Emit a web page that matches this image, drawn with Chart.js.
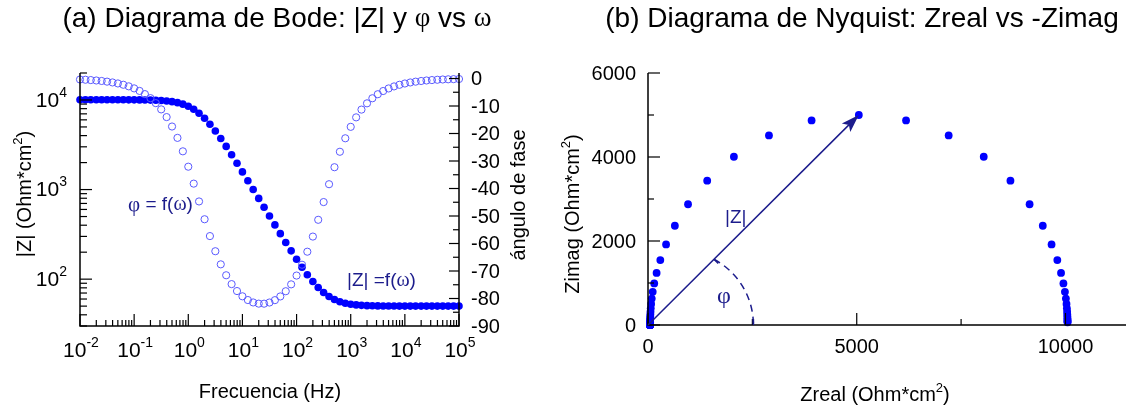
<!DOCTYPE html>
<html>
<head>
<meta charset="utf-8">
<script src="https://cdn.jsdelivr.net/npm/chart.js@4.4.1/dist/chart.umd.min.js"></script>
<style>
  body { margin: 0; background: #fff; width: 1130px; height: 407px; overflow: hidden; position: relative; }
  canvas { position: absolute; top: 0; }
  #bode { left: 0; }
  #nyq { left: 560px; }
</style>
</head>
<body>
<canvas id="bode" width="560" height="407"></canvas>
<canvas id="nyq" width="570" height="407"></canvas>
<script>
// frequency points (Hz), 10 per decade
const freq = [
  0.01, 0.0126, 0.0158, 0.02, 0.0251, 0.0316, 0.0398, 0.0501, 0.0631, 0.0794,
  0.1, 0.126, 0.158, 0.2, 0.251, 0.316, 0.398, 0.501, 0.631, 0.794,
  1, 1.26, 1.58, 2, 2.51, 3.16, 3.98, 5.01, 6.31, 7.94,
  10, 12.6, 15.8, 20, 25.1, 31.6, 39.8, 50.1, 63.1, 79.4,
  100, 126, 158, 200, 251, 316, 398, 501, 631, 794,
  1000, 1260, 1580, 2000, 2510, 3160, 3980, 5010, 6310, 7940,
  10000, 12600, 15800, 20000, 25100, 31600, 39800, 50100, 63100, 79400,
  100000
];

// |Z| (Ohm*cm2)
const zMod = [
  10050, 10050, 10050, 10049, 10049, 10048, 10047, 10045, 10042, 10037,
  10030, 10018, 10000, 9971, 9926, 9856, 9747, 9582, 9337, 8985,
  8500, 7870, 7107, 6251, 5363, 4503, 3718, 3031, 2449, 1967,
  1574, 1256, 1001, 797, 635, 506, 403, 322, 257, 207,
  167, 136, 112, 94.2, 80.8, 71.0, 64.0, 59.3, 56.0, 53.9,
  52.5, 51.6, 51.0, 50.6, 50.4, 50.3, 50.2, 50.1, 50.1, 50.0,
  50.0, 50.0, 50.0, 50.0, 50.0, 50.0, 50.0, 50.0, 50.0, 50.0,
  50.0
];

// phase angle (degrees)
const phase = [
  -0.36, -0.45, -0.57, -0.72, -0.90, -1.14, -1.43, -1.80, -2.27, -2.85,
  -3.59, -4.52, -5.68, -7.14, -8.96, -11.23, -14.03, -17.46, -21.59, -26.48,
  -32.07, -38.23, -44.71, -51.18, -57.30, -62.81, -67.58, -71.55, -74.77, -77.29,
  -79.20, -80.56, -81.44, -81.87, -81.88, -81.46, -80.60, -79.25, -77.36, -74.86,
  -71.66, -67.72, -62.98, -57.48, -51.38, -44.93, -38.44, -32.26, -26.64, -21.74,
  -17.58, -14.13, -11.31, -9.03, -7.19, -5.72, -4.55, -3.62, -2.88, -2.29,
  -1.82, -1.44, -1.15, -0.91, -0.72, -0.57, -0.46, -0.36, -0.29, -0.23,
  -0.18
];

// Nyquist: Zreal and -Zimag (Ohm*cm2)
const zReal = [
  10049.6, 10049.4, 10049.0, 10048.4, 10047.5, 10046.0, 10043.7, 10040.0, 10034.2, 10024.9,
  10010.3, 9987.3, 9951.0, 9894.0, 9805.0, 9667.1, 9456.5, 9140.9, 8681.9, 8042.4,
  7202.5, 6181.4, 5050, 3918.6, 2897.5, 2057.6, 1418.1, 959.1, 643.5, 432.9,
  295.0, 206.0, 149.0, 112.7, 89.7, 75.1, 65.8, 60.0, 56.3, 54.0,
  52.5, 51.6, 51.0, 50.6, 50.4, 50.3, 50.2, 50.1, 50.1, 50.0,
  50.0, 50.0, 50.0, 50.0, 50.0, 50.0, 50.0, 50.0, 50.0, 50.0,
  50.0, 50.0, 50.0, 50.0, 50.0, 50.0, 50.0, 50.0, 50.0, 50.0,
  50.0
];
const zImag = [
  63.1, 79.4, 100.0, 125.9, 158.4, 199.5, 251.0, 315.9, 397.5, 499.9,
  628.5, 789.3, 990.1, 1239.3, 1546.1, 1918.9, 2362.8, 2874.8, 3436.4, 4005.7,
  4512.9, 4870.4, 5000, 4870.3, 4513.0, 4005.7, 3436.5, 2874.8, 2362.8, 1918.9,
  1546.1, 1239.3, 990.1, 789.3, 628.5, 499.9, 397.5, 315.9, 251.0, 199.5,
  158.5, 125.9, 100.0, 79.4, 63.1, 50.1, 39.8, 31.6, 25.1, 20.0,
  15.8, 12.6, 10.0, 7.9, 6.3, 5.0, 4.0, 3.2, 2.5, 2.0,
  1.6, 1.3, 1.0, 0.8, 0.6, 0.5, 0.4, 0.3, 0.25, 0.2,
  0.16
];
const apexIdx = 22;

// tick labels
const freqTickExp = [-2, -1, 0, 1, 2, 3, 4, 5];
const zTickExp = [2, 3, 4];
const phaseTicks = [0, -10, -20, -30, -40, -50, -60, -70, -80, -90];
const nyqXTicks = [0, 5000, 10000];
const nyqYTicks = [0, 2000, 4000, 6000];

const SANS = '"Liberation Sans", Arial, sans-serif';
const SERIF = '"Liberation Serif", "Times New Roman", serif';
const NAVY = '#1c1c8c';

function setFont(ctx, size, fam) { ctx.font = size + 'px ' + (fam || SANS); }

// parts: [text, size, family, dy]
function drawRich(ctx, parts, x, y, align) {
  let w = 0;
  parts.forEach(p => { setFont(ctx, p[1], p[2]); w += ctx.measureText(p[0]).width; });
  let cx = align === 'center' ? x - w / 2 : (align === 'right' ? x - w : x);
  ctx.textAlign = 'left';
  ctx.textBaseline = 'middle';
  parts.forEach(p => {
    setFont(ctx, p[1], p[2]);
    ctx.fillText(p[0], cx, y + (p[3] || 0));
    cx += ctx.measureText(p[0]).width;
  });
}

function drawRotated(ctx, parts, x, y) {
  ctx.save();
  ctx.translate(x, y);
  ctx.rotate(-Math.PI / 2);
  drawRich(ctx, parts, 0, 0, 'center');
  ctx.restore();
}

function pow10(e, size) {
  return [['10', size], [String(e), Math.round(size * 0.65), SANS, -8]];
}

function tick(ctx, x1, y1, x2, y2) {
  ctx.beginPath(); ctx.moveTo(x1, y1); ctx.lineTo(x2, y2); ctx.stroke();
}

const bodeAxes = {
  id: 'bodeAxes',
  afterDraw(chart) {
    const { ctx, chartArea: a } = chart;
    const sx = chart.scales.x, sy = chart.scales.y, sy2 = chart.scales.y2;
    ctx.save();
    ctx.strokeStyle = '#000';
    ctx.fillStyle = '#000';
    ctx.lineWidth = 1.5;
    ctx.beginPath();
    ctx.moveTo(a.left, a.top); ctx.lineTo(a.left, a.bottom);
    ctx.lineTo(a.right, a.bottom); ctx.lineTo(a.right, a.top);
    ctx.stroke();
    ctx.lineWidth = 1.2;

    // frequency axis
    freqTickExp.forEach((e, i) => {
      const px = sx.getPixelForValue(Math.pow(10, e));
      tick(ctx, px, a.bottom, px, a.bottom - 12);
      drawRich(ctx, pow10(e, 21), px + 1, 351, 'center');
      if (i < freqTickExp.length - 1) {
        for (let k = 2; k <= 9; k++) {
          const mx = sx.getPixelForValue(k * Math.pow(10, e));
          tick(ctx, mx, a.bottom, mx, a.bottom - 6);
        }
      }
    });

    // |Z| axis
    for (let e = 1; e <= 4; e++) {
      for (let k = 1; k <= 9; k++) {
        const v = k * Math.pow(10, e);
        if (v < sy.min || v > sy.max) continue;
        const py = sy.getPixelForValue(v);
        tick(ctx, a.left, py, a.left + (k === 1 ? 12 : 7), py);
      }
    }
    zTickExp.forEach(e => {
      drawRich(ctx, pow10(e, 21), 67, sy.getPixelForValue(Math.pow(10, e)) + 1, 'right');
    });

    // phase axis
    for (let v = 0; v >= -90; v -= 5) {
      const py = sy2.getPixelForValue(v);
      tick(ctx, a.right, py, a.right - (v % 10 === 0 ? 10 : 6), py);
    }
    phaseTicks.forEach(v => {
      drawRich(ctx, [[String(v), 20]], 471, sy2.getPixelForValue(v) + 1, 'left');
    });

    // titles
    drawRich(ctx, [['(a) Diagrama de Bode: |Z| y ', 28], ['\u03c6', 27, SERIF], [' vs ', 28], ['\u03c9', 27, SERIF]], 277, 19, 'center');
    drawRich(ctx, [['Frecuencia (Hz)', 20]], 270, 392, 'center');
    drawRotated(ctx, [['|Z| (Ohm*cm', 20], ['2', 13, SANS, -7], [')', 20]], 25, 194);
    drawRotated(ctx, [['\u00e1ngulo de fase', 20]], 519, 195);

    // curve labels
    ctx.fillStyle = NAVY;
    drawRich(ctx, [['\u03c6', 21, SERIF], [' = f(', 19], ['\u03c9', 20, SERIF], [')', 19]], 128, 205, 'left');
    drawRich(ctx, [['|Z| =f(', 19], ['\u03c9', 20, SERIF], [')', 19]], 347, 281, 'left');
    ctx.restore();
  }
};

const nyqAxes = {
  id: 'nyqAxes',
  afterDraw(chart) {
    const { ctx, chartArea: a } = chart;
    const sx = chart.scales.x, sy = chart.scales.y;
    ctx.save();
    ctx.strokeStyle = '#000';
    ctx.fillStyle = '#000';
    ctx.lineWidth = 1.5;
    ctx.beginPath();
    ctx.moveTo(a.left, a.top); ctx.lineTo(a.left, a.bottom); ctx.lineTo(a.right, a.bottom);
    ctx.stroke();
    ctx.lineWidth = 1.2;

    for (let v = 0; v <= 6000; v += 1000) {
      const py = sy.getPixelForValue(v);
      tick(ctx, a.left, py, a.left + (v % 2000 === 0 ? 12 : 6), py);
    }
    nyqYTicks.forEach(v => drawRich(ctx, [[String(v), 20]], 76, sy.getPixelForValue(v) + 1, 'right'));
    for (let v = 0; v <= 10000; v += 2500) {
      const px = sx.getPixelForValue(v);
      tick(ctx, px, a.bottom, px, a.bottom - (v % 5000 === 0 ? 12 : 6));
    }
    nyqXTicks.forEach(v => drawRich(ctx, [[String(v), 20]], sx.getPixelForValue(v), 347, 'center'));

    drawRich(ctx, [['(b) Diagrama de Nyquist: Zreal vs -Zimag', 28]], 302, 19, 'center');
    drawRich(ctx, [['Zreal (Ohm*cm', 20], ['2', 13, SANS, -7], [')', 20]], 315, 395, 'center');
    drawRotated(ctx, [['Zimag (Ohm*cm', 20], ['2', 13, SANS, -7], [')', 20]], 13, 214);

    // |Z| vector to the apex point
    const x0 = sx.getPixelForValue(0), y0 = sy.getPixelForValue(0);
    const x1 = sx.getPixelForValue(zReal[apexIdx]), y1 = sy.getPixelForValue(zImag[apexIdx]);
    const ang = Math.atan2(y1 - y0, x1 - x0);
    const c = Math.cos(ang), s = Math.sin(ang);
    const hl = 18, hw = 6;
    const bx = x1 - hl * c, by = y1 - hl * s;
    ctx.strokeStyle = NAVY;
    ctx.fillStyle = NAVY;
    ctx.lineWidth = 1.5;
    tick(ctx, x0, y0, bx + 4 * c, by + 4 * s);
    ctx.beginPath();
    ctx.moveTo(x1, y1);
    ctx.lineTo(bx - hw * s, by + hw * c);
    ctx.lineTo(bx + 4 * c, by + 4 * s);
    ctx.lineTo(bx + hw * s, by - hw * c);
    ctx.closePath();
    ctx.fill();

    // dashed angle arc
    const cx = sx.getPixelForValue(740), cy = sy.getPixelForValue(0);
    const r = sx.getPixelForValue(740 + 1785) - cx;
    const ox = x0 - cx, oy = y0 - cy;
    const b = ox * c + oy * s, q = ox * ox + oy * oy - r * r;
    const t = -b + Math.sqrt(b * b - q);
    const ix = x0 + t * c, iy = y0 + t * s;
    const a0 = Math.atan2(iy - cy, ix - cx);
    ctx.setLineDash([7, 5]);
    ctx.beginPath();
    ctx.arc(cx, cy, r, a0, 0);
    ctx.stroke();
    ctx.setLineDash([]);
    tick(ctx, ix, iy, ix - 6 * s, iy + 6 * c);
    tick(ctx, cx + r, cy, cx + r, cy - 6);

    drawRich(ctx, [['|Z|', 19]], 165, 218, 'left');
    drawRich(ctx, [['\u03c6', 24, SERIF]], 164, 297, 'center');
    ctx.restore();
  }
};

new Chart(document.getElementById('bode'), {
  type: 'scatter',
  data: {
    datasets: [
      {
        label: 'fase',
        data: freq.map((f, i) => ({ x: f, y: phase[i] })),
        yAxisID: 'y2',
        pointRadius: 3.6,
        pointBorderWidth: 1,
        pointBorderColor: '#5a5aff',
        pointBackgroundColor: 'rgba(255,255,255,0)',
        clip: false
      },
      {
        label: '|Z|',
        data: freq.map((f, i) => ({ x: f, y: zMod[i] })),
        yAxisID: 'y',
        pointRadius: 3.8,
        pointBorderWidth: 0,
        pointBackgroundColor: '#0000ff',
        clip: false
      }
    ]
  },
  options: {
    responsive: false,
    animation: false,
    layout: { padding: { left: 80, right: 101, top: 73, bottom: 81 } },
    plugins: { legend: { display: false }, tooltip: { enabled: false } },
    scales: {
      x: { type: 'logarithmic', min: 0.01, max: 100000, display: false },
      y: { type: 'logarithmic', min: 30, max: 20000, display: false },
      y2: { type: 'linear', min: -90, max: 2, display: false }
    }
  },
  plugins: [bodeAxes]
});

new Chart(document.getElementById('nyq'), {
  type: 'scatter',
  data: {
    datasets: [{
      label: 'Nyquist',
      data: zReal.map((v, i) => ({ x: v, y: zImag[i] })),
      pointRadius: 3.9,
      pointBorderWidth: 0,
      pointBackgroundColor: '#0000ff',
      clip: false
    }]
  },
  options: {
    responsive: false,
    animation: false,
    layout: { padding: { left: 88, right: 0, top: 73, bottom: 82 } },
    plugins: { legend: { display: false }, tooltip: { enabled: false } },
    scales: {
      x: { type: 'linear', min: 0, max: 11450, display: false },
      y: { type: 'linear', min: 0, max: 6000, display: false }
    }
  },
  plugins: [nyqAxes]
});
</script>
</body>
</html>
